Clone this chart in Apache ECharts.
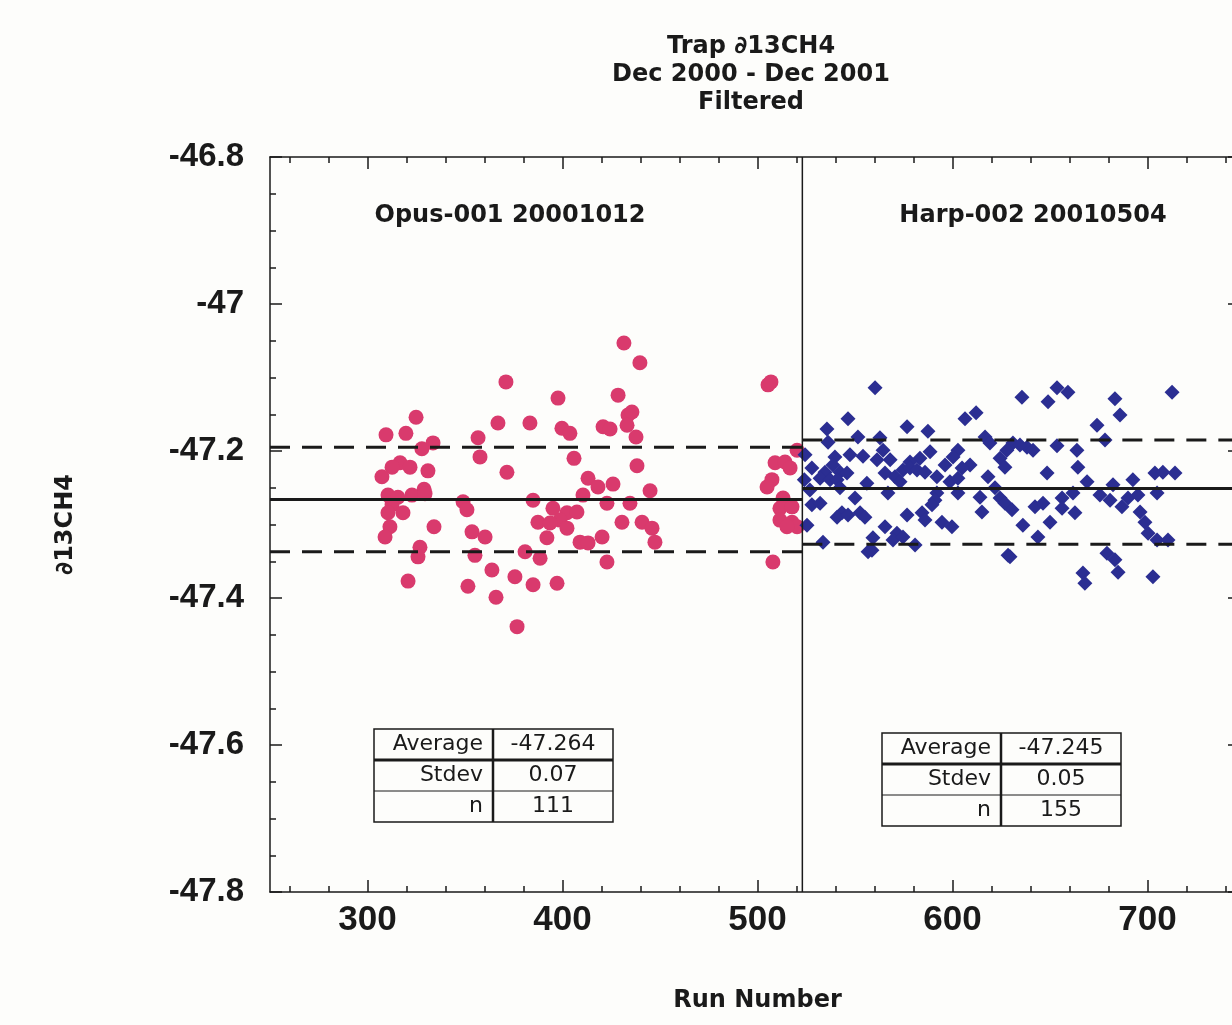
<!DOCTYPE html>
<html>
<head>
    <meta charset="UTF-8">
    <title>Trap d13CH4</title>
    <script src="https://cdn.jsdelivr.net/npm/echarts@6/dist/echarts.min.js"></script>
    <style>
        body { margin: 0; background: #fdfdfb; }
        #main { width: 1232px; height: 1025px; }
    </style>
</head>
<body>
    <div id="main"></div>
    <script>
        // run number / d13C values
        var opusPoints = [
            [371.0,-47.106],[324.9,-47.154],[366.9,-47.162],[309.5,-47.178],[319.7,-47.176],[356.7,-47.182],
            [333.6,-47.189],[327.9,-47.197],[357.7,-47.208],[316.7,-47.216],[312.6,-47.222],[321.8,-47.222],
            [331.0,-47.227],[307.4,-47.235],[371.5,-47.229],[329.0,-47.252],[310.5,-47.260],[315.6,-47.263],
            [322.8,-47.260],[329.5,-47.258],[349.0,-47.269],[351.0,-47.280],[312.6,-47.273],[318.2,-47.284],
            [310.5,-47.284],[311.5,-47.303],[309.0,-47.317],[334.1,-47.303],[353.6,-47.310],[360.3,-47.317],
            [326.9,-47.331],[325.9,-47.344],[355.1,-47.342],[363.8,-47.362],[320.8,-47.377],[351.5,-47.384],
            [365.9,-47.399],[376.7,-47.439],
            [431.5,-47.053],[439.7,-47.080],[397.7,-47.128],[428.5,-47.124],[383.3,-47.162],[399.7,-47.169],
            [403.8,-47.176],[420.8,-47.167],[424.4,-47.170],[433.6,-47.151],[435.6,-47.147],[433.1,-47.165],
            [437.7,-47.181],[405.9,-47.210],[438.2,-47.220],[413.1,-47.237],[418.2,-47.249],[425.9,-47.245],
            [444.9,-47.254],[410.5,-47.260],[384.9,-47.267],[395.1,-47.278],[402.3,-47.284],[407.4,-47.283],
            [398.7,-47.294],[434.6,-47.271],[422.8,-47.271],[387.4,-47.297],[393.6,-47.298],[430.5,-47.297],
            [402.3,-47.305],[440.8,-47.297],[445.9,-47.305],[392.0,-47.318],[409.0,-47.324],[413.1,-47.325],
            [420.3,-47.317],[447.4,-47.324],[380.8,-47.337],[388.5,-47.346],[422.8,-47.351],[375.6,-47.371],
            [397.2,-47.380],[384.9,-47.382],
            [505.4,-47.110],[506.9,-47.106],[520.3,-47.199],[509.0,-47.216],[514.1,-47.215],[516.7,-47.223],
            [507.4,-47.239],[504.9,-47.249],[513.1,-47.264],[511.5,-47.278],[517.7,-47.276],[511.5,-47.294],
            [517.7,-47.297],[520.3,-47.303],[515.1,-47.303],[507.9,-47.351]
        ];

        var harpPoints = [
            [560.3,-47.114],[546.4,-47.156],[535.6,-47.170],[551.5,-47.181],[536.2,-47.188],[524.4,-47.205],
            [539.7,-47.208],[547.4,-47.205],[554.1,-47.207],[538.7,-47.219],[527.9,-47.223],[534.6,-47.229],
            [542.3,-47.229],[545.9,-47.230],[532.1,-47.237],[537.2,-47.239],[540.8,-47.239],[524.0,-47.239],
            [556.1,-47.244],[542.3,-47.250],[526.9,-47.253],[550.0,-47.264],[527.9,-47.273],[532.1,-47.271],
            [543.3,-47.284],[540.8,-47.290],[546.4,-47.287],[552.6,-47.284],[555.1,-47.290],[525.4,-47.301],
            [533.6,-47.324],[556.7,-47.337],[559.2,-47.318],
            [606.4,-47.156],[612.1,-47.148],[576.7,-47.167],[587.4,-47.173],[562.8,-47.182],[616.7,-47.181],
            [619.2,-47.189],[564.4,-47.199],[568.0,-47.212],[561.3,-47.212],[588.5,-47.201],[602.8,-47.199],
            [600.3,-47.208],[583.3,-47.210],[578.2,-47.215],[596.2,-47.219],[609.0,-47.219],[604.9,-47.223],
            [565.4,-47.230],[570.5,-47.235],[574.6,-47.226],[578.2,-47.223],[581.8,-47.226],[585.9,-47.229],
            [573.1,-47.242],[592.0,-47.235],[598.7,-47.242],[602.8,-47.237],[618.2,-47.235],[621.8,-47.250],
            [566.9,-47.257],[592.0,-47.257],[591.0,-47.267],[589.5,-47.273],[602.8,-47.257],[614.1,-47.263],
            [624.4,-47.264],[576.7,-47.287],[584.4,-47.284],[585.9,-47.294],[615.1,-47.283],[565.4,-47.303],
            [571.5,-47.312],[569.5,-47.321],[574.6,-47.317],[594.6,-47.297],[599.7,-47.303],[580.8,-47.328],
            [558.7,-47.335],[628.5,-47.342],
            [635.6,-47.127],[653.6,-47.114],[659.2,-47.120],[649.0,-47.133],[683.3,-47.129],[685.9,-47.151],
            [712.6,-47.120],[674.1,-47.165],[678.2,-47.185],[631.0,-47.189],[638.2,-47.195],[641.3,-47.199],
            [627.9,-47.199],[634.6,-47.192],[653.6,-47.193],[663.8,-47.199],[624.4,-47.210],[626.9,-47.222],
            [664.3,-47.222],[648.5,-47.230],[669.0,-47.242],[682.3,-47.246],[692.5,-47.239],[703.8,-47.230],
            [707.9,-47.229],[714.1,-47.230],[675.6,-47.260],[680.8,-47.267],[690.0,-47.264],[695.1,-47.260],
            [704.9,-47.257],[661.8,-47.257],[656.2,-47.264],[626.9,-47.271],[630.5,-47.280],[642.3,-47.276],
            [646.4,-47.271],[656.2,-47.278],[662.8,-47.284],[686.9,-47.276],[696.2,-47.283],[650.0,-47.297],
            [636.1,-47.301],[698.7,-47.297],[700.3,-47.312],[643.8,-47.317],[704.9,-47.321],[710.5,-47.321],
            [629.5,-47.344],[679.2,-47.339],[683.3,-47.348],[684.9,-47.365],[666.9,-47.366],[667.9,-47.380],
            [702.8,-47.371]
        ];

        // upper / mean / lower lines for each trap
        var opusLines = [-47.195, -47.266, -47.337];
        var harpLines = [-47.185, -47.251, -47.327];
        var runRange = [250, 750];
        var splitRun = 523;

        var majorRuns = [300, 400, 500, 600, 700];
        var minorRuns = [260, 280, 320, 340, 360, 380, 420, 440, 460, 480, 520, 540, 560, 580,
                         620, 640, 660, 680, 720, 740];

        var opusTable = [['Average', '-47.264'], ['Stdev', '0.07'], ['n', '111']];
        var harpTable = [['Average', '-47.245'], ['Stdev', '0.05'], ['n', '155']];

        var chart = echarts.init(document.getElementById('main'), null, {renderer: 'canvas'});

        var black = '#1a1a1a';
        var wideFont = 'DejaVu Sans';
        var numFont = 'Liberation Sans';

        function hLine(y, from, to, dashed) {
            return {
                type: 'line',
                data: [[from, y], [to, y]],
                symbol: 'none',
                silent: true,
                z: 5,
                lineStyle: {color: black, width: 3, type: dashed ? [20, 12] : 'solid'}
            };
        }

        function makeTable(x, y, rows) {
            var colW = [119, 120], rowH = 31;
            var els = [];
            els.push({type: 'rect', shape: {x: x, y: y, width: colW[0] + colW[1], height: rowH * 3},
                style: {fill: '#fdfdfb', stroke: black, lineWidth: 1.5}});
            els.push({type: 'line', shape: {x1: x, y1: y + rowH, x2: x + colW[0] + colW[1], y2: y + rowH},
                style: {stroke: black, lineWidth: 3}});
            els.push({type: 'line', shape: {x1: x, y1: y + rowH * 2, x2: x + colW[0] + colW[1], y2: y + rowH * 2},
                style: {stroke: black, lineWidth: 1}});
            els.push({type: 'line', shape: {x1: x + colW[0], y1: y, x2: x + colW[0], y2: y + rowH * 3},
                style: {stroke: black, lineWidth: 2.5}});
            rows.forEach(function (r, i) {
                var cy = y + rowH * i + rowH / 2;
                els.push({type: 'text', x: x + colW[0] - 10, y: cy,
                    style: {text: r[0], fill: black, font: '22px "DejaVu Sans"', align: 'right', verticalAlign: 'middle'}});
                els.push({type: 'text', x: x + colW[0] + colW[1] / 2, y: cy,
                    style: {text: r[1], fill: black, font: '22px "DejaVu Sans"', align: 'center', verticalAlign: 'middle'}});
            });
            return {type: 'group', children: els};
        }

        var axisLineStyle = {show: true, lineStyle: {color: black, width: 1.5}};
        var tickStyle = {color: black, width: 1.5};

        var option = {
            backgroundColor: '#fdfdfb',
            animation: false,
            title: {
                text: 'Trap \u220213CH4\nDec 2000 - Dec 2001\nFiltered',
                left: 746,
                textAlign: 'center',
                top: 28,
                textStyle: {fontFamily: wideFont, fontWeight: 'bold', fontSize: 24, lineHeight: 28, color: black}
            },
            grid: {left: 270, top: 157, width: 975, height: 735, containLabel: false, outerBoundsMode: 'none'},
            xAxis: [
                {
                    type: 'value', min: runRange[0], max: runRange[1], position: 'bottom',
                    axisLine: axisLineStyle,
                    axisTick: {inside: true, length: 12, customValues: majorRuns, lineStyle: tickStyle},
                    axisLabel: {customValues: majorRuns, margin: 11, color: black, fontFamily: numFont,
                        fontWeight: 'bold', fontSize: 35},
                    splitLine: {show: false},
                    name: 'Run Number', nameLocation: 'middle', nameGap: 97,
                    nameTextStyle: {fontFamily: wideFont, fontWeight: 'bold', fontSize: 24, color: black}
                },
                {
                    type: 'value', min: runRange[0], max: runRange[1], position: 'bottom',
                    axisLine: {show: false},
                    axisTick: {inside: true, length: 6, customValues: minorRuns, lineStyle: tickStyle},
                    axisLabel: {show: false}, splitLine: {show: false}
                },
                {
                    type: 'value', min: runRange[0], max: runRange[1], position: 'top',
                    axisLine: axisLineStyle,
                    axisTick: {inside: true, length: 12, customValues: majorRuns, lineStyle: tickStyle},
                    axisLabel: {show: false}, splitLine: {show: false}
                },
                {
                    type: 'value', min: runRange[0], max: runRange[1], position: 'top',
                    axisLine: {show: false},
                    axisTick: {inside: true, length: 6, customValues: minorRuns, lineStyle: tickStyle},
                    axisLabel: {show: false}, splitLine: {show: false}
                }
            ],
            yAxis: [
                {
                    type: 'value', min: -47.8, max: -46.8, interval: 0.2, position: 'left',
                    axisLine: axisLineStyle,
                    axisTick: {inside: true, length: 12, lineStyle: tickStyle},
                    minorTick: {show: true, splitNumber: 4, length: 6, lineStyle: tickStyle},
                    axisLabel: {margin: 26, color: black, fontFamily: numFont, fontWeight: 'bold', fontSize: 33},
                    splitLine: {show: false},
                    name: '\u220213CH4', nameLocation: 'middle', nameGap: 192, nameRotate: 90,
                    nameTextStyle: {fontFamily: wideFont, fontWeight: 'bold', fontSize: 24, color: black}
                },
                {
                    type: 'value', min: -47.8, max: -46.8, interval: 0.2, position: 'right',
                    axisLine: axisLineStyle,
                    axisTick: {inside: true, length: 17, lineStyle: tickStyle},
                    minorTick: {show: true, splitNumber: 4, length: 6, lineStyle: tickStyle},
                    axisLabel: {show: false}, splitLine: {show: false}
                }
            ],
            graphic: [
                {type: 'text', x: 510, y: 216, style: {text: 'Opus-001 20001012', fill: black,
                    font: 'bold 24px "DejaVu Sans"', align: 'center', verticalAlign: 'middle'}},
                {type: 'text', x: 1033, y: 216, style: {text: 'Harp-002 20010504', fill: black,
                    font: 'bold 24px "DejaVu Sans"', align: 'center', verticalAlign: 'middle'}},
                makeTable(374, 729, opusTable),
                makeTable(882, 733, harpTable)
            ],
            series: [
                {
                    type: 'scatter', data: opusPoints, symbol: 'circle', symbolSize: 15,
                    itemStyle: {color: '#d93a6d', opacity: 1}, z: 3
                },
                {
                    type: 'scatter', data: harpPoints, symbol: 'diamond', symbolSize: 15,
                    itemStyle: {color: '#2b2e92', opacity: 1}, z: 3
                },
                hLine(opusLines[0], runRange[0], splitRun, true),
                hLine(opusLines[1], runRange[0], splitRun, false),
                hLine(opusLines[2], runRange[0], splitRun, true),
                hLine(harpLines[0], splitRun, runRange[1], true),
                hLine(harpLines[1], splitRun, runRange[1], false),
                hLine(harpLines[2], splitRun, runRange[1], true),
                {
                    type: 'line', data: [[splitRun, -46.8], [splitRun, -47.8]], symbol: 'none', silent: true,
                    z: 6, lineStyle: {color: black, width: 1.5}
                }
            ]
        };

        chart.setOption(option);
    </script>
</body>
</html>
